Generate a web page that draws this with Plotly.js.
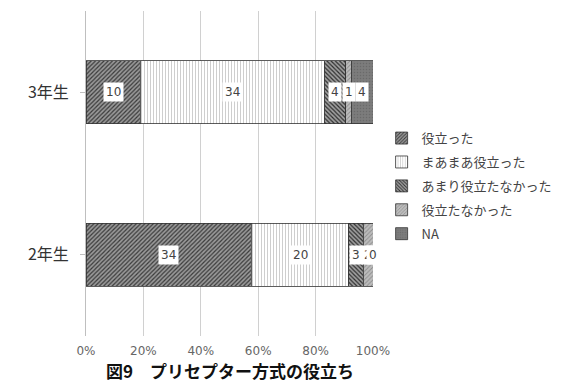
<!DOCTYPE html>
<html><head><meta charset="utf-8">
<script src="https://cdn.plot.ly/plotly-3.0.1.min.js"></script>
<style>body{margin:0;background:#fff}#c{width:565px;height:391px}</style>
</head><body><div id="c"></div>
<script>
const categories = ['2年生', '3年生'];
const seriesNames = ['役立った', 'まあまあ役立った', 'あまり役立たなかった', '役立たなかった', 'NA'];
const valuesYearTwo = [34, 20, 3, 2, 0];
const valuesYearThree = [10, 34, 4, 1, 4];
const xTickVals = [0, 20, 40, 60, 80, 100];
const xTickText = ['0%', '20%', '40%', '60%', '80%', '100%'];
const chartTitle = '図9　プリセプター方式の役立ち';

const styles = [
  {bg: '#9a9a9a', fg: '#3a3a3a', shape: '/', size: 3, sol: 0.4},
  {bg: '#ffffff', fg: '#c8c8c8', shape: '|', size: 3, sol: 0.3},
  {bg: '#a0a0a0', fg: '#2e2e2e', shape: '\\', size: 3, sol: 0.4},
  {bg: '#bcbcbc', fg: '#8e8e8e', shape: '/', size: 3, sol: 0.3},
  {bg: '#7c7c7c', fg: '#6a6a6a', shape: '.', size: 3, sol: 0.2}
];
const rows = [valuesYearTwo, valuesYearThree];
const totals = rows.map(r => r.reduce((a, b) => a + b, 0));

const traces = seriesNames.map((name, i) => ({
  type: 'bar', orientation: 'h', name: name, legendgroup: 'g' + i,
  y: categories,
  x: rows.map(r => r[i]),
  width: 0.39,
  marker: {
    color: styles[i].bg,
    line: {color: '#333', width: 0.8},
    pattern: {shape: styles[i].shape, fgcolor: styles[i].fg, bgcolor: styles[i].bg, size: styles[i].size, solidity: styles[i].sol}
  },
  hoverinfo: 'x+name'
}));

const annotations = [];
rows.forEach((r, ri) => {
  let cum = 0;
  r.forEach((v, i) => {
    const mid = (cum + v / 2) / totals[ri] * 100;
    cum += v;
    annotations.push({
      x: mid, y: categories[ri], xref: 'x', yref: 'y', text: String(v), showarrow: false,
      bgcolor: '#ffffff', borderpad: 2,
      font: {family: 'DejaVu Sans, sans-serif', size: 12, color: '#444'}
    });
  });
});

const layout = {
  width: 565, height: 391,
  margin: {l: 86, r: 192, t: 11, b: 55, autoexpand: false},
  barmode: 'stack', barnorm: 'percent',
  paper_bgcolor: '#fff', plot_bgcolor: '#fff',
  showlegend: true,
  legend: {x: 1.03, y: 0.655, xanchor: 'left', yanchor: 'top', traceorder: 'grouped',
    font: {family: 'Noto Sans CJK JP, sans-serif', size: 13, color: '#444'},
    itemwidth: 30, tracegroupgap: 4},
  xaxis: {range: [0, 100], tickvals: xTickVals, ticktext: xTickText, showgrid: true,
    gridcolor: '#d0d0d0', gridwidth: 1, zeroline: false, showline: false,
    tickfont: {family: 'DejaVu Sans, sans-serif', size: 12, color: '#666'}, ticks: '', ticklabelstandoff: 6, fixedrange: true},
  yaxis: {categoryorder: 'array', categoryarray: categories, showline: true, linecolor: '#bfbfbf',
    ticks: 'outside', ticklen: 5, tickcolor: '#bfbfbf', showgrid: false,
    tickfont: {family: 'Noto Sans CJK JP, sans-serif', size: 16, color: '#333'}, ticklabelstandoff: 8},
  annotations: annotations.concat([{
    xref: 'paper', yref: 'paper', x: 0.5, y: -0.105, yanchor: 'middle', showarrow: false,
    text: '<b>' + chartTitle + '</b>',
    font: {family: 'Noto Sans CJK JP, sans-serif', size: 17, color: '#111'}
  }])
};
Plotly.newPlot('c', traces, layout, {displayModeBar: false, staticPlot: true});
</script></body></html>
